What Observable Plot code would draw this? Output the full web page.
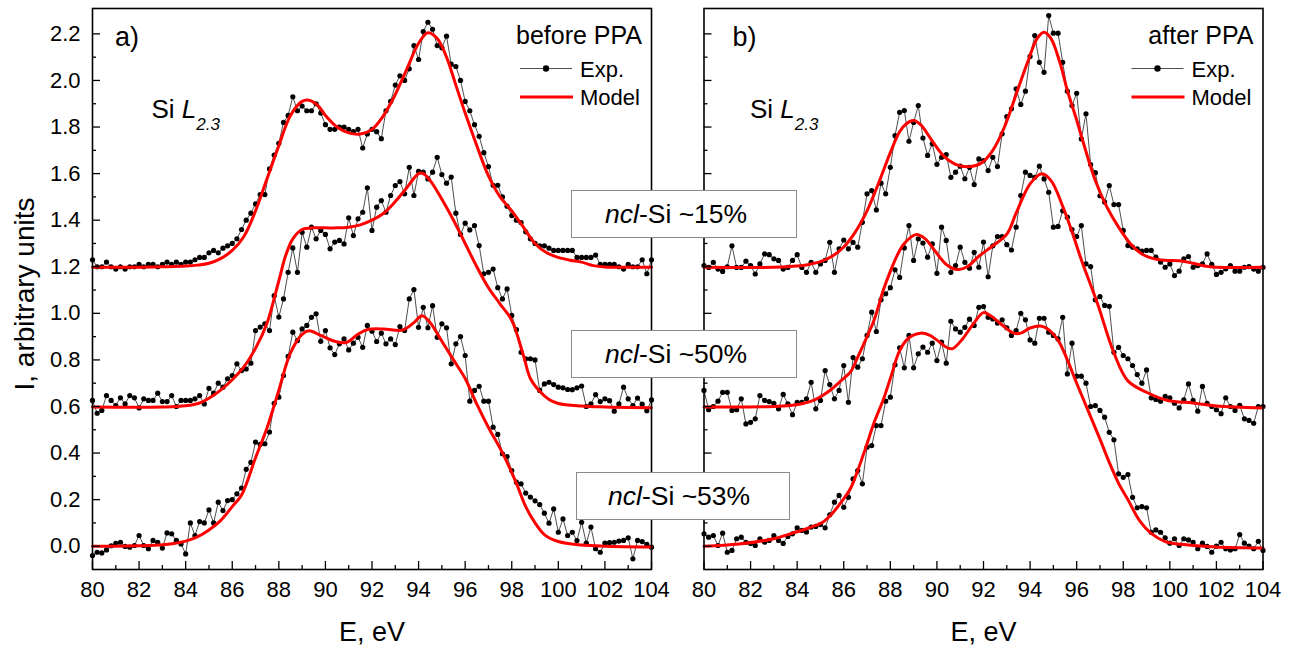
<!DOCTYPE html>
<html>
<head>
<meta charset="utf-8">
<script src="https://cdn.jsdelivr.net/npm/d3@7"></script>
<script src="https://cdn.jsdelivr.net/npm/@observablehq/plot@0.6"></script>
<style>
  body { margin: 0; background: #fff; }
  #wrap { position: relative; width: 1293px; height: 646px; overflow: hidden; background: #fff; }
  #wrap > svg { position: absolute; top: 0; }
</style>
</head>
<body>
<div id="wrap"></div>
<script>
// ---------------- data ----------------
const energy = [
  80,80.2,80.4,80.6,80.8,81,81.2,81.4,81.6,81.8,
  82,82.2,82.4,82.6,82.8,83,83.2,83.4,83.6,83.8,
  84,84.2,84.4,84.6,84.8,85,85.2,85.4,85.6,85.8,
  86,86.2,86.4,86.6,86.8,87,87.2,87.4,87.6,87.8,
  88,88.2,88.4,88.6,88.8,89,89.2,89.4,89.6,89.8,
  90,90.2,90.4,90.6,90.8,91,91.2,91.4,91.6,91.8,
  92,92.2,92.4,92.6,92.8,93,93.2,93.4,93.6,93.8,
  94,94.2,94.4,94.6,94.8,95,95.2,95.4,95.6,95.8,
  96,96.2,96.4,96.6,96.8,97,97.2,97.4,97.6,97.8,
  98,98.2,98.4,98.6,98.8,99,99.2,99.4,99.6,99.8,
  100,100.2,100.4,100.6,100.8,101,101.2,101.4,101.6,101.8,
  102,102.2,102.4,102.6,102.8,103,103.2,103.4,103.6,103.8,
  104
];

// panel a) before PPA — experimental spectra
const expBefore15 = [
  1.23,1.20,1.20,1.22,1.20,1.19,1.20,1.19,1.20,1.20,
  1.21,1.20,1.21,1.21,1.20,1.21,1.22,1.21,1.22,1.21,
  1.22,1.22,1.23,1.24,1.24,1.26,1.27,1.26,1.28,1.29,
  1.30,1.32,1.36,1.40,1.43,1.47,1.51,1.51,1.62,1.68,
  1.73,1.82,1.85,1.93,1.87,1.89,1.87,1.87,1.90,1.86,
  1.81,1.79,1.79,1.80,1.80,1.79,1.78,1.79,1.71,1.77,
  1.79,1.78,1.75,1.87,1.91,1.98,2.02,2.00,2.05,2.15,
  2.09,2.21,2.25,2.22,2.15,2.14,2.19,2.07,2.06,2.00,
  1.91,1.87,1.81,1.76,1.69,1.63,1.55,1.55,1.50,1.46,
  1.42,1.40,1.39,1.35,1.32,1.30,1.29,1.29,1.28,1.27,
  1.27,1.27,1.27,1.27,1.24,1.24,1.24,1.24,1.25,1.21,
  1.21,1.21,1.21,1.20,1.19,1.21,1.20,1.20,1.23,1.17,
  1.23
];
const expBefore50 = [
  0.626,0.571,0.583,0.647,0.626,0.604,0.637,0.611,0.647,0.637,
  0.594,0.633,0.626,0.626,0.657,0.621,0.621,0.647,0.600,0.626,
  0.626,0.626,0.633,0.647,0.611,0.678,0.657,0.700,0.683,0.719,
  0.733,0.783,0.754,0.761,0.786,0.926,0.941,0.955,0.926,1.076,
  0.984,1.062,1.176,1.281,1.176,1.348,1.284,1.370,1.320,1.356,
  1.339,1.277,1.306,1.313,1.298,1.410,1.334,1.406,1.434,1.539,
  1.356,1.456,1.484,1.434,1.506,1.549,1.566,1.513,1.627,1.506,
  1.610,1.606,1.577,1.606,1.670,1.596,1.559,1.585,1.430,1.339,
  1.387,1.358,1.377,1.291,1.170,1.176,1.190,1.110,1.062,1.105,
  0.991,0.930,0.833,0.805,0.805,0.800,0.669,0.697,0.704,0.694,
  0.683,0.680,0.673,0.672,0.680,0.688,0.600,0.611,0.651,0.621,
  0.633,0.625,0.580,0.611,0.683,0.633,0.604,0.636,0.610,0.582,
  0.628
];
const expBefore53 = [
  -0.040,-0.026,-0.029,-0.016,0.002,0.012,0.017,-0.001,-0.004,0.003,
  0.046,0.003,-0.011,0.025,0.017,-0.008,0.057,0.053,0.025,0.010,
  -0.033,0.100,0.046,0.106,0.100,0.156,0.100,0.189,0.153,0.196,
  0.200,0.225,0.250,0.330,0.360,0.447,0.437,0.440,0.490,0.614,
  0.640,0.733,0.815,0.919,0.883,0.933,0.948,0.983,0.998,0.880,
  0.926,0.852,0.823,0.869,0.890,0.843,0.872,0.897,0.854,0.948,
  0.923,0.879,0.915,0.869,0.890,0.866,0.943,0.926,1.062,1.102,
  0.940,1.026,0.938,1.033,0.897,0.955,0.938,0.783,0.869,0.900,
  0.819,0.623,0.669,0.687,0.623,0.623,0.511,0.480,0.397,0.385,
  0.325,0.275,0.268,0.228,0.211,0.195,0.179,0.142,0.099,0.160,
  0.060,0.117,0.046,0.060,0.024,0.103,0.013,0.082,-0.011,-0.026,
  0.013,0.015,0.017,0.022,0.025,0.036,-0.054,0.025,0.020,0.008,
  -0.004
];

// panel b) after PPA — experimental spectra
const expAfter15 = [
  1.205,1.197,1.219,1.190,1.180,1.200,1.290,1.197,1.197,1.224,
  1.205,1.169,1.212,1.255,1.252,1.234,1.227,1.190,1.197,1.227,
  1.252,1.197,1.176,1.219,1.176,1.212,1.227,1.305,1.176,1.277,
  1.315,1.277,1.305,1.284,1.391,1.513,1.527,1.444,1.559,1.513,
  1.627,1.763,1.863,1.871,1.739,1.820,1.892,1.753,1.678,1.728,
  1.640,1.670,1.682,1.584,1.606,1.632,1.578,1.627,1.553,1.663,
  1.656,1.613,1.670,1.630,1.771,1.845,1.878,1.964,1.897,1.954,
  2.103,2.193,2.078,2.035,2.279,2.203,2.203,2.078,1.954,1.892,
  1.945,1.749,1.857,1.639,1.604,1.505,1.478,1.549,1.467,1.467,
  1.356,1.291,1.284,1.277,1.267,1.270,1.270,1.241,1.220,1.198,
  1.212,1.162,1.181,1.234,1.244,1.198,1.205,1.212,1.255,1.210,
  1.167,1.176,1.191,1.205,1.181,1.181,1.198,1.201,1.190,1.181,
  1.198
];
const expAfter50 = [
  0.669,0.586,0.600,0.623,0.661,0.661,0.583,0.586,0.633,0.525,
  0.532,0.547,0.647,0.626,0.621,0.614,0.590,0.652,0.611,0.565,
  0.618,0.618,0.633,0.704,0.590,0.626,0.754,0.694,0.633,0.669,
  0.776,0.618,0.810,0.769,0.805,0.905,1.005,0.922,1.058,1.084,
  1.110,1.187,1.154,1.281,1.377,1.227,1.320,1.302,1.241,1.298,
  1.172,1.370,1.313,1.176,1.205,1.284,1.219,1.194,1.262,1.198,
  1.306,1.157,1.290,1.330,1.330,1.295,1.272,1.370,1.506,1.606,
  1.592,1.584,1.632,1.577,1.520,1.370,1.373,1.440,1.413,1.360,
  1.330,1.377,1.212,1.201,1.058,1.072,1.034,1.030,0.833,0.854,
  0.819,0.805,0.776,0.737,0.700,0.757,0.637,0.630,0.623,0.643,
  0.637,0.614,0.594,0.629,0.697,0.626,0.580,0.686,0.614,0.600,
  0.586,0.569,0.637,0.600,0.583,0.605,0.547,0.540,0.528,0.600,
  0.600
];
const expAfter53 = [
  0.053,0.039,0.046,0.003,0.056,-0.026,-0.018,0.032,0.039,0.017,
  0.012,0.003,0.032,0.017,0.025,0.046,0.025,0.012,0.042,0.053,
  0.079,0.068,0.061,0.082,0.085,0.093,0.079,0.135,0.189,0.218,
  0.167,0.210,0.289,0.325,0.268,0.425,0.432,0.518,0.518,0.623,
  0.640,0.779,0.852,0.766,0.905,0.766,0.826,0.855,0.833,0.872,
  0.797,0.876,0.786,0.966,0.933,0.919,0.940,0.975,0.948,1.026,
  1.029,0.983,0.976,0.958,0.972,0.938,0.905,0.926,1.000,0.972,
  0.886,0.872,0.979,0.979,0.919,0.905,0.890,0.983,0.740,0.872,
  0.730,0.730,0.700,0.600,0.604,0.583,0.554,0.489,0.457,0.311,
  0.296,0.308,0.210,0.165,0.170,0.165,0.060,0.070,0.060,0.036,
  0.013,0.032,0.003,0.032,0.027,0.017,-0.011,0.013,-0.001,-0.026,
  0.000,0.017,-0.011,-0.016,-0.011,0.050,0.013,0.000,-0.011,0.021,
  -0.018
];

// model curves (energy knots and intensities)
const modelBefore15E = [80,82,83,84,84.5,85,85.5,86,86.5,87,87.5,88,88.5,89,89.3,89.7,90,90.5,91,91.5,92,92.5,93,93.5,94,94.4,94.8,95.2,95.6,96,96.5,97,97.5,98,98.5,99,99.5,100,100.5,101,101.5,102,103,104];
const modelBefore15I = [1.198,1.198,1.200,1.203,1.207,1.215,1.235,1.27,1.33,1.44,1.58,1.72,1.85,1.91,1.915,1.89,1.85,1.80,1.775,1.77,1.79,1.85,1.94,2.05,2.16,2.205,2.18,2.10,1.98,1.86,1.72,1.59,1.50,1.44,1.37,1.30,1.26,1.24,1.228,1.22,1.205,1.199,1.198,1.198];
const modelBefore50E = [80,83,84,84.6,85,85.5,86,86.5,87,87.5,88,88.3,88.6,89,89.5,90,90.5,91,91.5,92,92.5,93,93.5,94,94.2,94.5,95,95.5,96,96.5,97,97.5,98,98.5,98.8,99.2,99.6,100,101,102,104];
const modelBefore50I = [0.598,0.598,0.603,0.615,0.635,0.67,0.715,0.77,0.85,0.96,1.14,1.25,1.32,1.36,1.367,1.367,1.367,1.37,1.38,1.40,1.43,1.48,1.54,1.60,1.60,1.57,1.49,1.40,1.30,1.20,1.11,1.04,0.97,0.82,0.72,0.665,0.63,0.613,0.602,0.598,0.595];
const modelBefore53E = [80,81,82,83,83.5,84,84.5,85,85.5,86,86.4,87,87.5,88,88.5,89,89.3,89.8,90.4,90.9,91.4,91.8,92.5,93.3,93.8,94.15,94.5,95,95.5,96,96.5,97,97.5,97.8,98.2,98.6,99,99.4,100,101,102,104];
const modelBefore53I = [0,0,0.002,0.006,0.012,0.022,0.04,0.07,0.11,0.17,0.22,0.38,0.51,0.67,0.83,0.91,0.925,0.905,0.88,0.875,0.91,0.93,0.933,0.928,0.96,0.99,0.96,0.88,0.80,0.72,0.61,0.51,0.42,0.36,0.27,0.17,0.10,0.05,0.02,0.005,0,-0.003];

const modelAfter15E = [80,83,84,84.5,85,85.5,86,86.5,87,87.5,88,88.4,88.7,89,89.3,89.8,90.3,90.8,91.4,91.9,92.4,92.9,93.4,93.9,94.3,94.6,94.9,95.3,95.6,96,96.3,96.8,97.3,97.8,98.3,98.8,99.3,99.8,100.4,101,101.5,102,104];
const modelAfter15I = [1.198,1.198,1.203,1.21,1.222,1.245,1.285,1.35,1.44,1.56,1.69,1.78,1.815,1.828,1.81,1.74,1.675,1.64,1.63,1.645,1.70,1.80,1.94,2.08,2.18,2.207,2.18,2.07,1.957,1.83,1.728,1.57,1.456,1.37,1.30,1.255,1.235,1.228,1.226,1.215,1.203,1.198,1.198];
const modelAfter50E = [80,83,83.7,84.2,84.7,85.3,85.9,86.3,86.6,87,87.3,87.7,88,88.3,88.6,89.1,89.5,89.9,90.4,90.9,91.3,91.8,92.4,93,93.4,94,94.5,94.9,95.4,95.8,96.2,96.9,97.6,98.2,99,99.9,101,102,104];
const modelAfter50I = [0.598,0.600,0.604,0.612,0.626,0.661,0.712,0.75,0.812,0.90,0.97,1.10,1.18,1.25,1.30,1.338,1.32,1.27,1.21,1.188,1.20,1.245,1.29,1.34,1.43,1.556,1.599,1.57,1.46,1.35,1.23,1.04,0.83,0.71,0.661,0.626,0.615,0.602,0.594];
const modelAfter53E = [80,81.5,83,83.7,84.4,85.1,85.5,85.9,86.3,86.6,87,87.3,87.7,88,88.4,88.8,89.3,89.7,90,90.5,90.7,91.1,91.6,92,92.3,92.8,93.3,93.6,94,94.5,94.8,95.2,95.6,96,96.5,97,97.4,97.8,98.2,98.7,99.2,99.8,100.5,101,102,104];
const modelAfter53I = [0,0.01,0.032,0.053,0.075,0.103,0.14,0.19,0.25,0.325,0.44,0.53,0.63,0.72,0.84,0.895,0.915,0.905,0.885,0.85,0.85,0.89,0.96,1.003,0.99,0.95,0.915,0.915,0.937,0.945,0.93,0.885,0.80,0.70,0.58,0.46,0.36,0.27,0.20,0.11,0.055,0.02,0.008,0.003,-0.003,-0.008];

// ticks and labels
const xMajor = [80,82,84,86,88,90,92,94,96,98,100,102,104];
const xMinor = [81,83,85,87,89,91,93,95,97,99,101,103];
const yMajor = [0,0.2,0.4,0.6,0.8,1.0,1.2,1.4,1.6,1.8,2.0,2.2];
const yMinor = [0.1,0.3,0.5,0.7,0.9,1.1,1.3,1.5,1.7,1.9,2.1];
const panelTags = ["a)", "b)"];
const panelTitles = ["before PPA", "after PPA"];
const legendLabels = ["Exp.", "Model"];
const fractionLabels = ["~15%", "~50%", "~53%"];
const xLabel = "E, eV";
const yLabel = "I, arbitrary units";

// ---------------- drawing ----------------
const FONT = '"Liberation Sans", Arial, Helvetica, sans-serif';
const RED = "#ff0000";
const TICKFONT = 22;
const rows = (Es, Is) => Es.map((E, i) => ({E, I: Is[i]}));

function panel({width, ml, mr, exps, models, showY}) {
  const marks = [];
  for (const e of exps) {
    const d = rows(energy, e);
    marks.push(Plot.line(d, {x: "E", y: "I", stroke: "#3a3a3a", strokeWidth: 0.9}));
    marks.push(Plot.dot(d, {x: "E", y: "I", r: 2.6, fill: "#000", stroke: "none"}));
  }
  for (const [E, I] of models) {
    marks.push(Plot.line(rows(E, I), {x: "E", y: "I", stroke: RED, strokeWidth: 3, curve: "catmull-rom"}));
  }
  marks.push(
    Plot.axisX({ticks: xMajor, tickSize: 0, tickPadding: 12, tickFormat: d => String(d), label: null, fontSize: TICKFONT}),
    Plot.axisX({ticks: xMajor, tickSize: -8, tickFormat: () => "", label: null, strokeWidth: 1.3}),
    Plot.axisX({ticks: xMinor, tickSize: -4, tickFormat: () => "", label: null, strokeWidth: 1.3}),
    Plot.axisY({ticks: yMajor, tickSize: -8, tickFormat: () => "", label: null, strokeWidth: 1.3}),
    Plot.axisY({ticks: yMinor, tickSize: -4, tickFormat: () => "", label: null, strokeWidth: 1.3}),
    Plot.text([xLabel], {frameAnchor: "bottom", dy: 71, lineAnchor: "bottom", textAnchor: "middle", fontSize: 27})
  );
  if (showY) {
    marks.push(
      Plot.axisY({ticks: yMajor, tickSize: 0, tickPadding: 12, tickFormat: d3.format(".1f"), label: null, fontSize: TICKFONT}),
      Plot.text([yLabel], {frameAnchor: "left", rotate: -90, dx: -59, dy: 5, lineAnchor: "bottom", textAnchor: "middle", fontSize: 28})
    );
  }
  marks.push(Plot.frame({stroke: "#000", strokeWidth: 1.6}));
  return Plot.plot({
    width, height: 646,
    marginLeft: ml, marginRight: mr, marginTop: 8, marginBottom: 77,
    x: {domain: [80, 104]},
    y: {domain: [-0.1, 2.309]},
    style: {fontFamily: FONT, fontSize: "22px", background: "transparent", color: "#000", overflow: "visible"},
    marks
  });
}

const wrap = document.getElementById("wrap");

const plotA = panel({
  width: 678, ml: 92, mr: 27, showY: true,
  exps: [expBefore15, expBefore50, expBefore53],
  models: [[modelBefore15E, modelBefore15I], [modelBefore50E, modelBefore50I], [modelBefore53E, modelBefore53I]]
});
plotA.style.left = "0px";
wrap.appendChild(plotA);

const plotB = panel({
  width: 615, ml: 25.5, mr: 30.5, showY: false,
  exps: [expAfter15, expAfter50, expAfter53],
  models: [[modelAfter15E, modelAfter15I], [modelAfter50E, modelAfter50I], [modelAfter53E, modelAfter53I]]
});
plotB.style.left = "678px";
wrap.appendChild(plotB);

// ---------------- annotations overlay ----------------
const ov = d3.create("svg")
  .attr("width", 1293).attr("height", 646)
  .style("left", "0px").style("pointer-events", "none")
  .attr("font-family", FONT).attr("fill", "#000");

const panelsGeo = [{left: 92, right: 651}, {left: 703.5, right: 1262.5}];
panelsGeo.forEach((g, i) => {
  ov.append("text").attr("x", g.left + 23 + (i ? 6 : 0)).attr("y", 46).attr("font-size", 27).text(panelTags[i]);
  ov.append("text").attr("x", g.right - 9).attr("y", 44).attr("font-size", 25)
    .attr("text-anchor", "end").text(panelTitles[i]);
  // legend
  const lx = g.right - 131;
  ov.append("line").attr("x1", lx).attr("x2", lx + 52).attr("y1", 68.5).attr("y2", 68.5)
    .attr("stroke", "#3a3a3a").attr("stroke-width", 0.9);
  ov.append("circle").attr("cx", lx + 26).attr("cy", 68.5).attr("r", 3.2).attr("fill", "#000");
  ov.append("text").attr("x", lx + 60).attr("y", 77).attr("font-size", 22).text(legendLabels[0]);
  ov.append("line").attr("x1", lx).attr("x2", lx + 53).attr("y1", 97).attr("y2", 97)
    .attr("stroke", RED).attr("stroke-width", 3);
  ov.append("text").attr("x", lx + 60).attr("y", 104.5).attr("font-size", 22).text(legendLabels[1]);
  // Si L2.3
  const t = ov.append("text").attr("x", g.left + 59.5 + (i ? -13 : 0)).attr("y", 117.5).attr("font-size", 26);
  t.append("tspan").text("Si ");
  t.append("tspan").attr("font-style", "italic").text("L");
  t.append("tspan").attr("font-style", "italic").attr("font-size", 17).attr("dy", 12.5).text("2.3");
});

const boxes = [
  {x: 571, y: 190, w: 225, h: 47, tx: 605, ty: 222.7},
  {x: 571, y: 330, w: 225, h: 47, tx: 605, ty: 363.3},
  {x: 576, y: 472, w: 213, h: 47, tx: 608, ty: 505}
];
boxes.forEach((b, i) => {
  ov.append("rect").attr("x", b.x + 0.5).attr("y", b.y + 0.5).attr("width", b.w).attr("height", b.h)
    .attr("fill", "#fff").attr("stroke", "#8a8a8a").attr("stroke-width", 1);
  const t = ov.append("text").attr("x", b.tx).attr("y", b.ty).attr("font-size", 26.5);
  t.append("tspan").attr("font-style", "italic").text("ncl");
  t.append("tspan").text("-Si " + fractionLabels[i]);
});

wrap.appendChild(ov.node());
</script>
</body>
</html>
